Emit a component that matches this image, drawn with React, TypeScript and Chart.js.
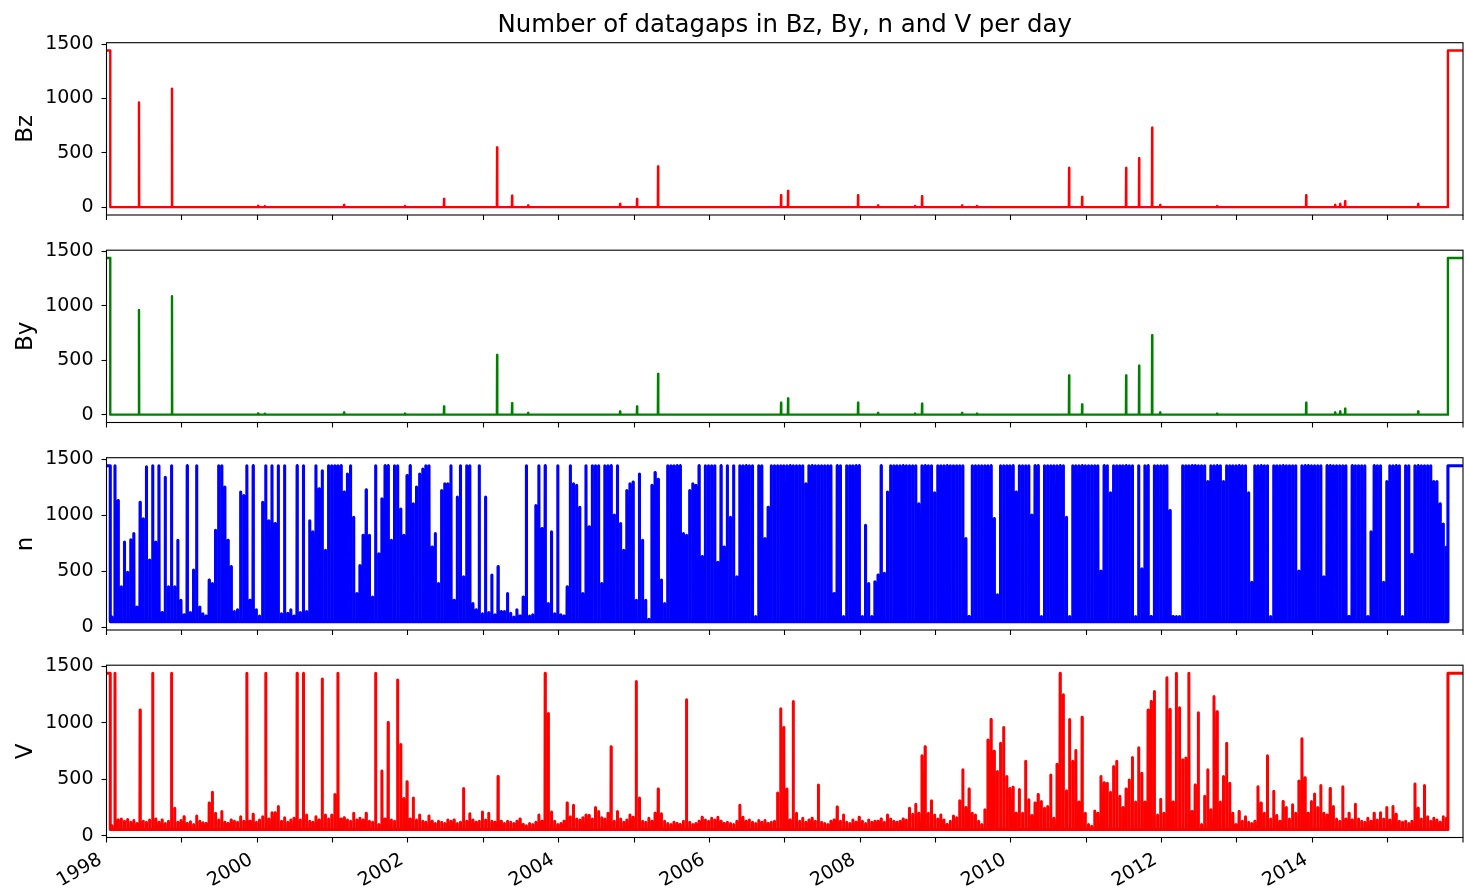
import React, { useEffect, useRef } from "react";
import { Chart, registerables } from "chart.js";

Chart.register(...registerables);

// ---------------- data ----------------
const TITLE = "Number of datagaps in Bz, By, n and V per day";
const X_MIN = 1998;
const X_MAX = 2016;
const tickYears = [1998, 1999, 2000, 2001, 2002, 2003, 2004, 2005, 2006, 2007, 2008, 2009, 2010, 2011, 2012, 2013, 2014, 2015];
const edgeTickYears = [2016];
const labelYears = [1998, 2000, 2002, 2004, 2006, 2008, 2010, 2012, 2014];
const yTickValues = [0, 500, 1000, 1500];

// whole-day gaps at the start and at the end of the record
const fullGap = 1440;
const leadEnd = 1998.05;
const tailStart = 2015.8;
const dayInYears = 1 / 365.25;

// Bz: isolated days with gaps
const bzSpikeYears = [1998.431, 1998.869, 2000.011, 2000.1, 2001.152, 2001.962, 2002.479, 2003.183, 2003.382, 2003.594, 2004.815, 2005.04, 2005.319, 2006.951, 2007.044, 2007.973, 2008.238, 2008.729, 2008.822, 2009.353, 2009.552, 2010.773, 2010.946, 2011.53, 2011.702, 2011.875, 2011.981, 2012.738, 2013.919, 2014.303, 2014.37, 2014.436, 2015.405];
const bzSpikeValues = [963, 1090, 12, 10, 20, 10, 75, 550, 105, 15, 30, 75, 375, 110, 150, 110, 15, 10, 100, 15, 10, 360, 95, 360, 450, 730, 20, 10, 110, 20, 30, 55, 30];

// By: same gap days as Bz
const bySpikeYears = [1998.431, 1998.869, 2000.011, 2000.1, 2001.152, 2001.962, 2002.479, 2003.183, 2003.382, 2003.594, 2004.815, 2005.04, 2005.319, 2006.951, 2007.044, 2007.973, 2008.238, 2008.729, 2008.822, 2009.353, 2009.552, 2010.773, 2010.946, 2011.53, 2011.702, 2011.875, 2011.981, 2012.738, 2013.919, 2014.303, 2014.37, 2014.436, 2015.405];
const bySpikeValues = [963, 1090, 12, 10, 20, 10, 75, 550, 105, 15, 30, 75, 375, 110, 150, 110, 15, 10, 100, 15, 10, 360, 95, 360, 450, 730, 20, 10, 110, 20, 30, 55, 30];

// n and V: highest daily gap count in each half-month, starting at binStart
const binStart = 1998.05;
const binWidth = 1 / 24;
const nFloor = 50;
const nPeaks = [
  90, 1440, 1130, 360, 760, 490, 780, 835, 180, 1115,
  967, 1430, 600, 1440, 760, 1440, 130, 1337, 360, 1440,
  360, 775, 240, 110, 1440, 130, 510, 1440, 180, 120,
  100, 420, 390, 865, 1440, 1440, 1250, 775, 540, 140,
  155, 1205, 1175, 1440, 240, 1440, 155, 100, 1115, 1440,
  950, 1440, 925, 1440, 120, 1440, 125, 155, 100, 1440,
  130, 1440, 140, 950, 850, 1440, 1235, 1395, 685, 1440,
  1440, 1440, 1440, 1440, 1205, 1367, 1440, 980, 300, 550,
  820, 1225, 820, 270, 1440, 655, 1145, 1440, 1440, 775,
  1440, 1440, 1055, 820, 1352, 1440, 1100, 1250, 1367, 1410,
  1440, 1440, 715, 835, 390, 1220, 1280, 1280, 1440, 240,
  1160, 1440, 450, 1440, 1440, 210, 155, 1440, 120, 1160,
  130, 465, 110, 540, 140, 140, 300, 125, 90, 155,
  100, 270, 1440, 100, 110, 1085, 1440, 880, 1440, 210,
  850, 120, 1440, 110, 100, 360, 1440, 1280, 1265, 1070,
  300, 1440, 895, 1440, 1440, 1440, 390, 1440, 1440, 1440,
  1000, 1440, 925, 685, 1220, 1280, 1295, 240, 1367, 775,
  240, 70, 1265, 1380, 1320, 420, 210, 1440, 1440, 1440,
  1440, 1440, 835, 820, 1220, 1280, 1265, 1440, 630, 1440,
  1440, 1440, 1440, 580, 1440, 715, 1440, 980, 1440, 450,
  1440, 1440, 1440, 1440, 1440, 95, 1440, 1440, 790, 1070,
  1440, 1440, 1440, 1440, 1440, 1440, 1440, 1440, 1440, 1440,
  1440, 1280, 1440, 1440, 1440, 1440, 1440, 1440, 1440, 1440,
  300, 1440, 1440, 95, 1440, 1440, 1440, 1440, 1440, 95,
  910, 390, 95, 405, 465, 1440, 480, 1205, 1440, 1440,
  1440, 1440, 1440, 1440, 1440, 1440, 1440, 1100, 1440, 1440,
  1440, 1440, 1200, 1440, 1440, 1440, 1440, 1440, 1440, 1440,
  1440, 1440, 790, 95, 1440, 1440, 1440, 1440, 1440, 1440,
  1440, 970, 290, 1440, 1440, 1440, 1440, 1440, 1205, 1440,
  1440, 1440, 1440, 1000, 1440, 1440, 95, 1440, 1440, 1440,
  1440, 1440, 1440, 1440, 980, 95, 1440, 1440, 1440, 1440,
  1440, 1440, 1440, 1440, 1440, 500, 1440, 1440, 1200, 1440,
  1440, 1440, 1440, 1440, 1440, 1440, 95, 1440, 520, 1440,
  1440, 95, 1440, 1440, 1440, 1440, 1440, 1040, 95, 95,
  95, 1440, 1440, 1440, 1440, 1440, 1440, 1440, 1440, 1300,
  1440, 1440, 1440, 1440, 1300, 1440, 1440, 1440, 1440, 1440,
  1440, 1440, 1200, 400, 1440, 1440, 1440, 1440, 1440, 95,
  1440, 1440, 1440, 1440, 1440, 1440, 1440, 1440, 500, 1440,
  1440, 1440, 1440, 1440, 1440, 1440, 450, 1440, 1440, 1440,
  1440, 1440, 1440, 1440, 95, 1440, 1440, 1440, 1440, 1440,
  95, 850, 1440, 1440, 1440, 400, 1300, 1440, 1440, 1440,
  1440, 95, 1440, 1440, 650, 1440, 1440, 1440, 1440, 1440,
  1440, 1300, 1300, 1100, 920, 715,
];

const vFloor = 55;
const vPeaks = [
  90, 1440, 140, 150, 130, 145, 120, 135, 110, 1115,
  130, 120, 140, 1440, 150, 120, 140, 110, 130, 1440,
  245, 120, 135, 170, 110, 125, 100, 175, 130, 115,
  110, 290, 385, 200, 140, 215, 120, 110, 140, 130,
  120, 170, 130, 1440, 130, 190, 120, 140, 170, 1440,
  150, 205, 205, 260, 130, 160, 120, 140, 155, 1440,
  140, 1440, 185, 130, 120, 170, 140, 1390, 185, 150,
  185, 365, 1440, 150, 160, 140, 130, 200, 140, 155,
  140, 200, 130, 120, 1440, 100, 575, 150, 1005, 140,
  130, 1380, 810, 330, 480, 150, 335, 140, 185, 130,
  120, 175, 130, 110, 130, 120, 110, 140, 130, 140,
  110, 120, 420, 130, 195, 140, 120, 130, 210, 140,
  200, 130, 120, 525, 130, 110, 130, 120, 110, 130,
  150, 100, 90, 110, 100, 120, 185, 130, 1440, 1085,
  210, 130, 100, 110, 130, 290, 170, 270, 150, 140,
  160, 185, 180, 150, 250, 215, 160, 150, 200, 790,
  130, 215, 150, 120, 140, 185, 165, 1367, 335, 130,
  120, 155, 130, 200, 415, 195, 130, 110, 100, 120,
  110, 100, 130, 1205, 120, 100, 110, 130, 165, 140,
  130, 155, 140, 165, 130, 110, 120, 110, 100, 130,
  270, 165, 130, 140, 120, 110, 135, 120, 135, 110,
  120, 130, 380, 1125, 960, 415, 140, 1190, 200, 130,
  155, 120, 140, 155, 130, 450, 120, 110, 100, 130,
  140, 255, 130, 185, 120, 110, 140, 120, 165, 130,
  110, 140, 120, 130, 130, 150, 120, 185, 150, 130,
  120, 130, 150, 140, 245, 190, 280, 200, 710, 790,
  200, 310, 185, 150, 185, 140, 100, 130, 175, 160,
  310, 585, 250, 415, 200, 185, 130, 100, 230, 850,
  1030, 750, 570, 820, 960, 525, 420, 430, 200, 410,
  200, 660, 320, 180, 290, 365, 305, 245, 260, 540,
  155, 635, 1440, 1250, 400, 1030, 660, 755, 300, 1050,
  200, 100, 85, 220, 200, 525, 470, 465, 385, 615,
  660, 350, 250, 415, 495, 695, 300, 780, 555, 300,
  1115, 1190, 1280, 185, 325, 200, 1400, 1120, 300, 1440,
  1135, 675, 690, 1440, 215, 450, 1090, 100, 350, 585,
  230, 1235, 1100, 300, 525, 820, 465, 200, 100, 215,
  130, 170, 120, 110, 130, 435, 290, 200, 710, 150,
  395, 180, 130, 305, 250, 150, 275, 200, 485, 860,
  515, 200, 305, 370, 250, 445, 200, 185, 420, 260,
  150, 130, 435, 150, 200, 140, 280, 150, 130, 120,
  155, 130, 200, 140, 205, 150, 250, 140, 260, 190,
  130, 120, 130, 110, 130, 460, 245, 150, 445, 170,
  130, 155, 140, 120, 170, 155,
];

// ---------------- series builders ----------------
type Pt = { x: number; y: number };

function leadPoints(): Pt[] {
  return [
    { x: X_MIN, y: fullGap },
    { x: leadEnd, y: fullGap },
  ];
}
function tailPoints(floor: number): Pt[] {
  return [
    { x: tailStart, y: floor },
    { x: tailStart, y: fullGap },
    { x: X_MAX, y: fullGap },
  ];
}
// one gap day: the line rises from the day before and falls back the day after
function dayPeak(pts: Pt[], t: number, v: number, floor: number) {
  pts.push({ x: t - dayInYears, y: floor }, { x: t, y: v }, { x: t + dayInYears, y: floor });
}
function spikeSeries(years: number[], values: number[]): Pt[] {
  const pts = leadPoints();
  pts.push({ x: leadEnd, y: 0 });
  years.forEach((t, i) => dayPeak(pts, t, values[i], 0));
  return pts.concat(tailPoints(0));
}
function binSeries(peaks: number[], floor: number): Pt[] {
  const pts = leadPoints();
  pts.push({ x: leadEnd, y: floor });
  peaks.forEach((v, i) => dayPeak(pts, binStart + (i + 0.5) * binWidth, v, floor));
  return pts.concat(tailPoints(floor));
}

// ---------------- layout / style ----------------
const W = 1466;
const H = 889;
const FONT = "'DejaVu Sans', 'Liberation Sans', sans-serif";
const PLOT_LEFT = 106.5;
const PLOT_RIGHT = 1463;
const TICK_LEN = 5;

const PANELS = [
  { label: "Bz", color: "#ff0000", width: 2.4, points: spikeSeries(bzSpikeYears, bzSpikeValues), yMin: -72, yMax: 1512, top: 42.7, bottom: 215 },
  { label: "By", color: "#008000", width: 2.4, points: spikeSeries(bySpikeYears, bySpikeValues), yMin: -72, yMax: 1512, top: 250.2, bottom: 422.5 },
  { label: "n", color: "#0000ff", width: 3.1, points: binSeries(nPeaks, nFloor), yMin: -25, yMax: 1512, top: 457.7, bottom: 630 },
  { label: "V", color: "#ff0000", width: 3.0, points: binSeries(vPeaks, vFloor), yMin: -15, yMax: 1512, top: 665.2, bottom: 837.5 },
];

const framePlugin = {
  id: "frame",
  afterDatasetsDraw(chart: any) {
    const { ctx, chartArea, scales } = chart;
    ctx.save();
    ctx.strokeStyle = "#000";
    ctx.lineWidth = 1.1;
    ctx.strokeRect(chartArea.left, chartArea.top, chartArea.right - chartArea.left, chartArea.bottom - chartArea.top);
    ctx.beginPath();
    edgeTickYears.forEach((yr) => {
      const px = scales.x.getPixelForValue(yr);
      ctx.moveTo(px, chartArea.bottom);
      ctx.lineTo(px, chartArea.bottom + TICK_LEN);
    });
    ctx.stroke();
    ctx.restore();
  },
};

const titlePlugin = {
  id: "figTitle",
  afterDraw(chart: any) {
    const { ctx, chartArea } = chart;
    ctx.save();
    ctx.fillStyle = "#000";
    ctx.font = `24.4px ${FONT}`;
    ctx.textAlign = "center";
    ctx.textBaseline = "alphabetic";
    ctx.fillText(TITLE, (chartArea.left + chartArea.right) / 2, 32.3);
    ctx.restore();
  },
};

function makeConfig(p: (typeof PANELS)[number], i: number): any {
  const isBottom = i === PANELS.length - 1;
  const xAxisH = isBottom ? 48 : 6;
  const tickGrid = {
    drawOnChartArea: false,
    drawTicks: true,
    tickLength: TICK_LEN,
    tickColor: "#000",
    tickWidth: 1.1,
    color: "#000",
  };
  return {
    type: "line",
    data: {
      datasets: [
        {
          data: p.points,
          borderColor: p.color,
          borderWidth: p.width,
          pointRadius: 0,
          pointHoverRadius: 0,
          fill: false,
          tension: 0,
          borderJoinStyle: "round",
          borderCapStyle: "butt",
        },
      ],
    },
    options: {
      responsive: false,
      maintainAspectRatio: false,
      animation: false,
      events: [],
      parsing: false,
      layout: { padding: { top: p.top, bottom: H - p.bottom - xAxisH, left: 0, right: W - PLOT_RIGHT } },
      plugins: { legend: { display: false }, tooltip: { enabled: false }, title: { display: false } },
      scales: {
        x: {
          type: "linear",
          min: X_MIN,
          max: X_MAX,
          afterBuildTicks: (s: any) => {
            s.ticks = tickYears.map((v) => ({ value: v }));
          },
          afterFit: (s: any) => {
            s.height = xAxisH;
            s.paddingLeft = 0;
            s.paddingRight = 0;
          },
          ticks: {
            autoSkip: false,
            minRotation: isBottom ? 30 : 0,
            maxRotation: isBottom ? 30 : 0,
            padding: 6,
            labelOffset: -6,
            color: "#000",
            font: { family: FONT, size: 19 },
            callback: (v: number) => (isBottom && labelYears.includes(Number(v)) ? String(v) : ""),
          },
          grid: tickGrid,
          border: { display: false },
        },
        y: {
          type: "linear",
          min: p.yMin,
          max: p.yMax,
          afterBuildTicks: (s: any) => {
            s.ticks = yTickValues.map((v) => ({ value: v }));
          },
          afterFit: (s: any) => {
            s.width = PLOT_LEFT;
          },
          ticks: {
            padding: 8,
            color: "#000",
            font: { family: FONT, size: 19 },
            callback: (v: number) => String(v),
          },
          grid: tickGrid,
          border: { display: false },
          title: {
            display: true,
            text: p.label,
            color: "#000",
            font: { family: FONT, size: 23 },
            padding: { top: 12, bottom: 0 },
          },
        },
      },
    },
    plugins: i === 0 ? [framePlugin, titlePlugin] : [framePlugin],
  };
}

export default function App() {
  const r0 = useRef<HTMLCanvasElement>(null);
  const r1 = useRef<HTMLCanvasElement>(null);
  const r2 = useRef<HTMLCanvasElement>(null);
  const r3 = useRef<HTMLCanvasElement>(null);
  const refs = [r0, r1, r2, r3];

  useEffect(() => {
    const charts = PANELS.map((p, i) => new Chart(refs[i].current as HTMLCanvasElement, makeConfig(p, i)));
    return () => charts.forEach((c) => c.destroy());
  }, []);

  return (
    <div style={{ position: "absolute", left: 0, top: 0, width: W, height: H, background: "#fff" }}>
      {PANELS.map((p, i) => (
        <canvas
          key={p.label}
          ref={refs[i]}
          width={W}
          height={H}
          style={{ position: "absolute", left: 0, top: 0, width: W, height: H }}
        />
      ))}
    </div>
  );
}
